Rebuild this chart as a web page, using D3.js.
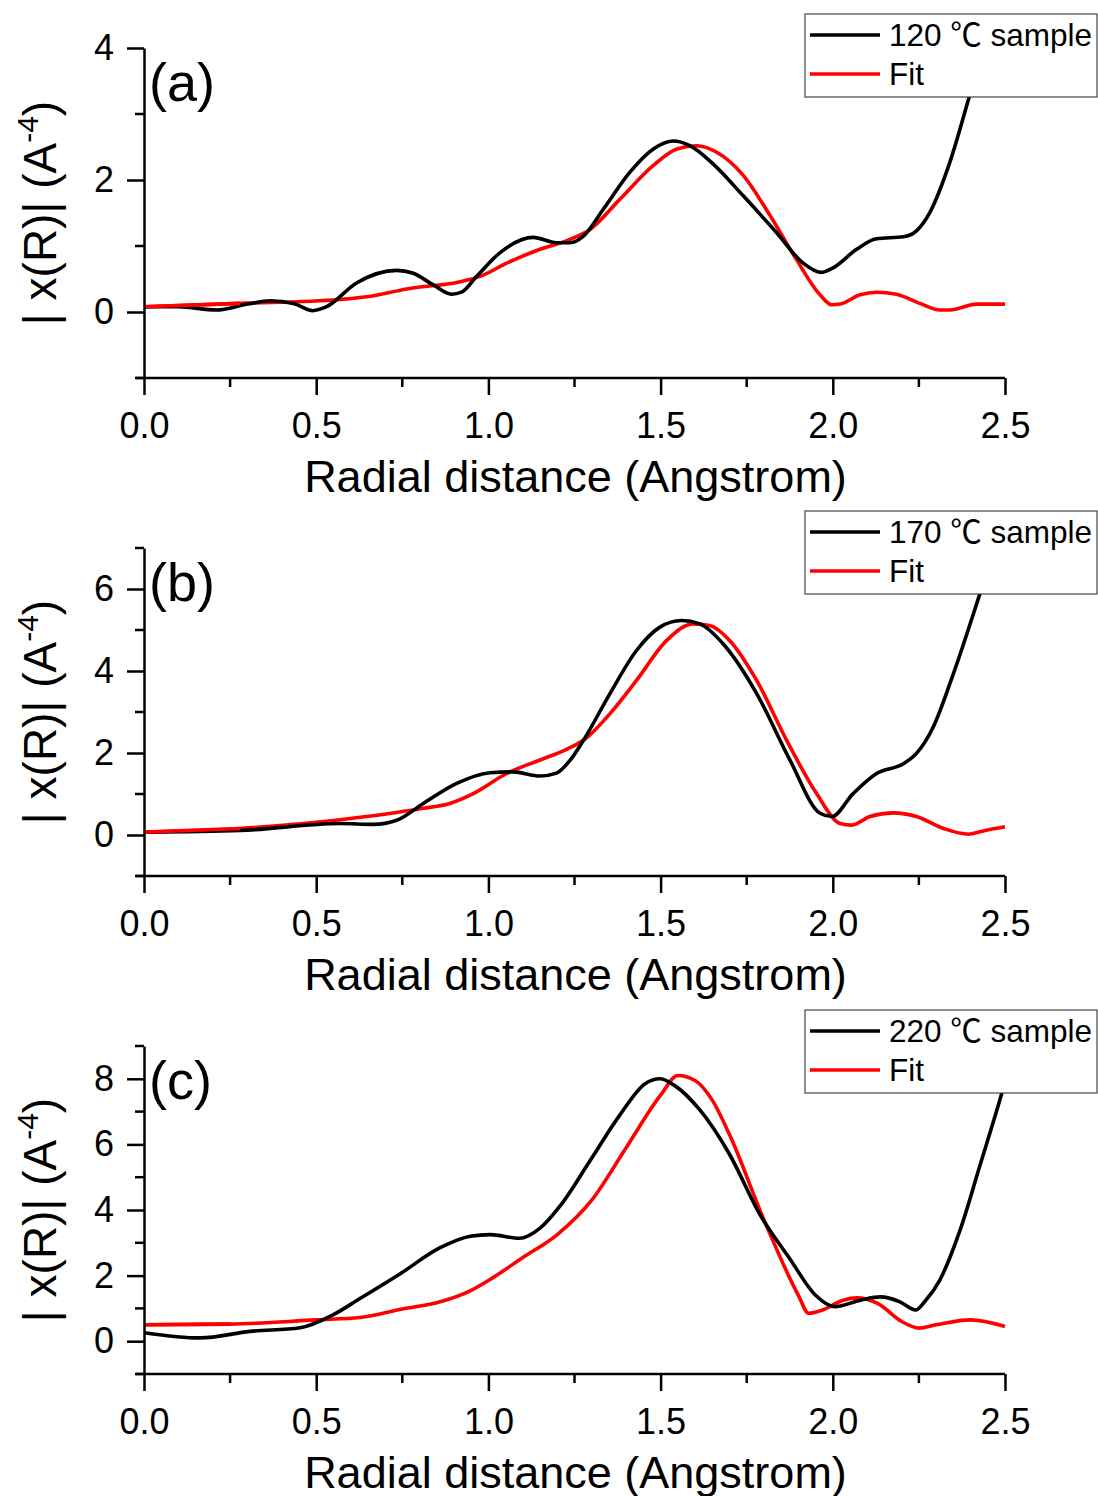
<!DOCTYPE html>
<html>
<head>
<meta charset="utf-8">
<script src="https://cdn.jsdelivr.net/npm/d3@7"></script>
<style>
  html, body { margin: 0; padding: 0; background: #fff; }
  svg { display: block; }
  text { font-family: "Liberation Sans", Arial, "Noto Sans CJK SC", sans-serif; fill: #000; }
</style>
</head>
<body>
<svg id="chart" width="1098" height="1496"></svg>
<script>
// Shared x axis: radial distance (Angstrom)
const xDomain = [0, 2.5];
const xMajorTicks = [0, 0.5, 1.0, 1.5, 2.0, 2.5];
const xMinorTicks = [0.25, 0.75, 1.25, 1.75, 2.25];
const xTitle = "Radial distance (Angstrom)";

// Panel labels, legend names and y ranges
const panelLabels = ["(a)", "(b)", "(c)"];
const sampleNames = ["120 \u2103 sample", "170 \u2103 sample", "220 \u2103 sample"];
const fitName = "Fit";
const yDomains = [[-1, 4], [-1, 7], [-1, 9]];
const yMajorTicks = [[0, 2, 4], [0, 2, 4, 6], [0, 2, 4, 6, 8]];
const yMinorTicks = [[-1, 1, 3], [-1, 1, 3, 5, 7], [-1, 1, 3, 5, 7, 9]];

// (a) 120 °C sample
const sampleA_R = [0, 0.1, 0.21, 0.3, 0.366, 0.434, 0.49, 0.53, 0.617, 0.734, 0.78, 0.84, 0.893, 0.922, 0.966, 1.034, 1.13, 1.198, 1.237, 1.276, 1.334, 1.411, 1.479, 1.537, 1.585, 1.653, 1.74, 1.837, 1.914, 1.965, 2.001, 2.069, 2.127, 2.205, 2.243, 2.282, 2.34, 2.398, 2.45, 2.5];
const sampleA_V = [0.08, 0.08, 0.03, 0.12, 0.17, 0.13, 0.02, 0.08, 0.44, 0.63, 0.59, 0.41, 0.27, 0.30, 0.54, 0.90, 1.13, 1.05, 1.05, 1.15, 1.56, 2.12, 2.47, 2.59, 2.52, 2.24, 1.76, 1.20, 0.74, 0.60, 0.67, 0.95, 1.11, 1.14, 1.23, 1.51, 2.27, 3.29, 4.2, 5.2];
const fitA_R = [0, 0.279, 0.569, 0.647, 0.763, 0.918, 0.976, 1.053, 1.15, 1.237, 1.295, 1.382, 1.479, 1.547, 1.605, 1.663, 1.74, 1.818, 1.895, 1.963, 1.997, 2.021, 2.079, 2.127, 2.185, 2.253, 2.311, 2.34, 2.418, 2.5];
const fitA_V = [0.08, 0.13, 0.19, 0.23, 0.35, 0.46, 0.54, 0.74, 0.95, 1.10, 1.25, 1.71, 2.22, 2.47, 2.52, 2.42, 2.07, 1.46, 0.79, 0.26, 0.11, 0.12, 0.26, 0.30, 0.27, 0.13, 0.03, 0.03, 0.12, 0.12];

// (b) 170 °C sample
const sampleB_R = [0, 0.279, 0.569, 0.666, 0.734, 0.811, 0.908, 1.005, 1.072, 1.15, 1.198, 1.237, 1.276, 1.353, 1.43, 1.498, 1.561, 1.614, 1.682, 1.779, 1.876, 1.963, 1.997, 2.059, 2.127, 2.205, 2.243, 2.292, 2.35, 2.427, 2.47, 2.5];
const sampleB_V = [0.07, 0.11, 0.28, 0.26, 0.36, 0.77, 1.26, 1.52, 1.54, 1.44, 1.51, 1.82, 2.31, 3.45, 4.50, 5.07, 5.23, 5.15, 4.66, 3.45, 1.82, 0.53, 0.45, 1.01, 1.50, 1.74, 1.99, 2.64, 3.93, 5.88, 7.0, 7.8];
const fitB_R = [0, 0.279, 0.569, 0.811, 0.888, 0.956, 1.053, 1.15, 1.227, 1.276, 1.353, 1.43, 1.517, 1.595, 1.643, 1.701, 1.779, 1.866, 1.953, 2.021, 2.055, 2.108, 2.176, 2.243, 2.321, 2.394, 2.437, 2.5];
const fitB_V = [0.07, 0.16, 0.37, 0.65, 0.77, 1.01, 1.50, 1.83, 2.09, 2.31, 2.96, 3.77, 4.74, 5.15, 5.11, 4.74, 3.77, 2.31, 1.01, 0.28, 0.24, 0.45, 0.54, 0.45, 0.16, 0.02, 0.10, 0.20];

// (c) 220 °C sample
const sampleC_R = [0, 0.163, 0.308, 0.453, 0.55, 0.627, 0.743, 0.86, 0.947, 1.005, 1.09, 1.15, 1.21, 1.295, 1.382, 1.455, 1.498, 1.54, 1.614, 1.7, 1.789, 1.876, 1.95, 2.006, 2.08, 2.138, 2.195, 2.24, 2.27, 2.31, 2.37, 2.427, 2.485, 2.5];
const sampleC_V = [0.26, 0.10, 0.30, 0.41, 0.81, 1.30, 2.05, 2.85, 3.20, 3.25, 3.14, 3.45, 4.15, 5.50, 6.90, 7.85, 8.00, 7.80, 7.05, 5.70, 3.85, 2.50, 1.40, 1.05, 1.25, 1.35, 1.20, 0.95, 1.25, 1.85, 3.40, 5.35, 7.35, 7.9];
const fitC_R = [0, 0.25, 0.5, 0.627, 0.75, 0.86, 0.95, 1.0, 1.1, 1.2, 1.3, 1.4, 1.5, 1.55, 1.6, 1.65, 1.7, 1.8, 1.9, 1.93, 1.97, 2.03, 2.07, 2.13, 2.2, 2.25, 2.3, 2.4, 2.5];
const fitC_V = [0.50, 0.52, 0.65, 0.72, 0.98, 1.20, 1.55, 1.85, 2.55, 3.25, 4.30, 5.90, 7.50, 8.10, 7.95, 7.35, 6.30, 3.70, 1.40, 0.85, 0.95, 1.25, 1.32, 1.15, 0.60, 0.40, 0.50, 0.65, 0.45];

const sampleR = [sampleA_R, sampleB_R, sampleC_R];
const sampleV = [sampleA_V, sampleB_V, sampleC_V];
const fitR = [fitA_R, fitB_R, fitC_R];
const fitV = [fitA_V, fitB_V, fitC_V];

// ---- layout ----
const svg = d3.select("#chart");
const plotLeft = 144, plotRight = 1005;
const panelTop = [48, 548, 1046];
const panelBottom = [378, 876, 1374];
const legendTop = [14, 511, 1010];
const fontStack = "'Liberation Sans', Arial, sans-serif";

const x = d3.scaleLinear().domain(xDomain).range([plotLeft, plotRight]);

function zip(rs, vs) { return rs.map((r, i) => ({ r, v: vs[i] })); }

panelLabels.forEach((label, p) => {
  const y = d3.scaleLinear().domain(yDomains[p]).range([panelBottom[p], panelTop[p]]);
  const g = svg.append("g");

  // clip region for the curves
  const clipId = "clip" + p;
  svg.append("clipPath").attr("id", clipId)
    .append("rect")
    .attr("x", plotLeft - 2).attr("y", panelTop[p])
    .attr("width", plotRight - plotLeft + 4).attr("height", panelBottom[p] - panelTop[p]);

  const line = d3.line().x(d => x(d.r)).y(d => y(d.v)).curve(d3.curveMonotoneX);
  const curves = g.append("g").attr("clip-path", `url(#${clipId})`);
  curves.append("path").datum(zip(fitR[p], fitV[p]))
    .attr("d", line).attr("fill", "none").attr("stroke", "#ff0000")
    .attr("stroke-width", 3.6).attr("stroke-linejoin", "round");
  curves.append("path").datum(zip(sampleR[p], sampleV[p]))
    .attr("d", line).attr("fill", "none").attr("stroke", "#000")
    .attr("stroke-width", 3.6).attr("stroke-linejoin", "round");
  // fit drawn on top where both overlap at low R
  curves.append("path").datum(zip(fitR[p], fitV[p]).filter(d => d.r <= 0.3))
    .attr("d", line).attr("fill", "none").attr("stroke", "#ff0000")
    .attr("stroke-width", 3.6);

  // x axis (major + minor ticks)
  const xAxisG = g.append("g").attr("transform", `translate(0,${panelBottom[p]})`);
  xAxisG.call(d3.axisBottom(x).tickValues(xMajorTicks).tickFormat(d3.format(".1f"))
    .tickSize(17).tickSizeOuter(0));
  xAxisG.call(ax => ax.select(".domain").attr("stroke-width", 2.5).attr("d", `M${plotLeft - 8},0H${plotRight}`));
  xAxisG.selectAll(".tick line").attr("stroke-width", 2.5);
  xAxisG.selectAll(".tick text").attr("font-size", 36).attr("y", 34).attr("dy", "0.71em")
    .style("font-family", fontStack);
  xAxisG.selectAll(".minor").data(xMinorTicks).enter().append("line")
    .attr("class", "minor")
    .attr("x1", d => x(d)).attr("x2", d => x(d))
    .attr("y1", 0).attr("y2", 9).attr("stroke", "#000").attr("stroke-width", 2.5);

  // y axis (major + minor ticks)
  const yAxisG = g.append("g").attr("transform", `translate(${plotLeft},0)`);
  yAxisG.call(d3.axisLeft(y).tickValues(yMajorTicks[p]).tickFormat(d3.format("d"))
    .tickSize(17).tickSizeOuter(0));
  yAxisG.select(".domain").attr("stroke-width", 2.5);
  yAxisG.selectAll(".tick line").attr("stroke-width", 2.5);
  yAxisG.selectAll(".tick text").attr("font-size", 36).attr("x", -30)
    .style("font-family", fontStack);
  yAxisG.selectAll(".minor").data(yMinorTicks[p]).enter().append("line")
    .attr("class", "minor")
    .attr("y1", d => y(d)).attr("y2", d => y(d))
    .attr("x1", 0).attr("x2", -9).attr("stroke", "#000").attr("stroke-width", 2.5);

  // axis titles
  g.append("text")
    .attr("x", (plotLeft + plotRight) / 2 + 1)
    .attr("y", panelBottom[p] + 114)
    .attr("text-anchor", "middle").attr("font-size", 45)
    .text(xTitle);

  const yMid = (panelTop[p] + panelBottom[p]) / 2;
  const yt = g.append("text")
    .attr("transform", `translate(56,${yMid}) rotate(-90)`)
    .attr("text-anchor", "middle").attr("font-size", 46);
  yt.append("tspan").text("| x(R)| (A");
  yt.append("tspan").attr("font-size", 30).attr("dy", -18).text("-4");
  yt.append("tspan").attr("dy", 18).text(")");

  // panel label
  g.append("text").attr("x", 149).attr("y", panelTop[p] + 53)
    .attr("font-size", 54).text(label);

  // legend
  const lg = g.append("g").attr("transform", `translate(805,${legendTop[p]})`);
  const box = lg.append("rect").attr("x", 0).attr("y", 0).attr("height", 83)
    .attr("fill", "#fff").attr("stroke", "#444").attr("stroke-width", 1.2);
  lg.append("line").attr("x1", 5).attr("x2", 75).attr("y1", 21).attr("y2", 21)
    .attr("stroke", "#000").attr("stroke-width", 3.6);
  lg.append("line").attr("x1", 5).attr("x2", 75).attr("y1", 60).attr("y2", 60)
    .attr("stroke", "#ff0000").attr("stroke-width", 3.6);
  const t1 = lg.append("text").attr("x", 84).attr("y", 32).attr("font-size", 31.5).text(sampleNames[p]);
  lg.append("text").attr("x", 84).attr("y", 71).attr("font-size", 31.5).text(fitName);
  const w = t1.node().getComputedTextLength();
  box.attr("width", Math.min(84 + w + 6, 1097 - 805));
});
</script>
</body>
</html>
